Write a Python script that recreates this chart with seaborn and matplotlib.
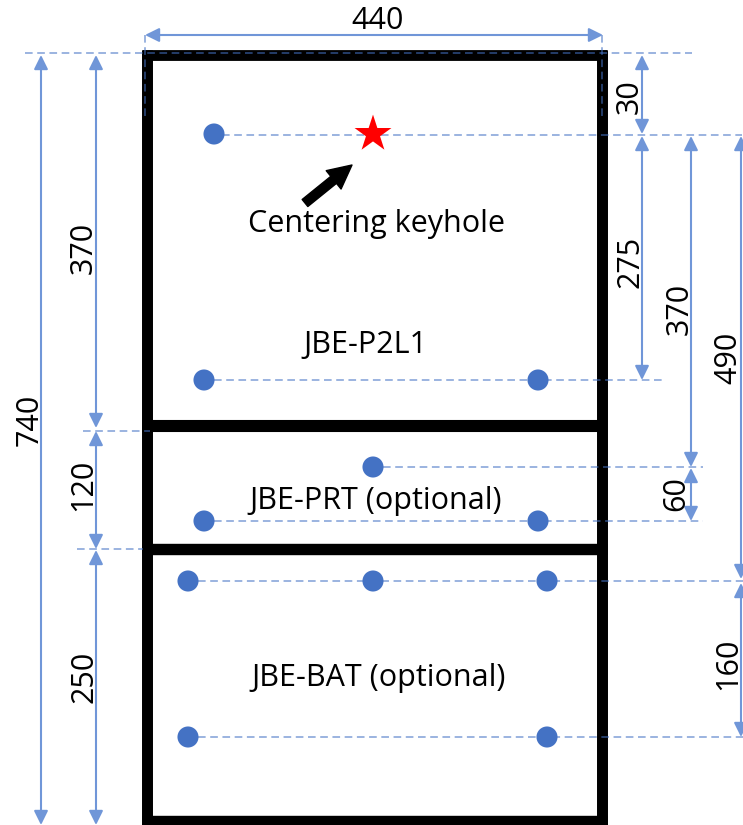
import matplotlib
matplotlib.use("Agg")
import matplotlib.pyplot as plt
import pandas as pd
import seaborn as sns

# All positions in reference pixel space
hole_x = [214, 204, 538, 373, 204, 538, 188, 373, 547, 188, 547]
hole_y = [134, 380, 380, 467, 521, 521, 581, 581, 581, 737, 737]
star_x = [373]
star_y = [134]

wall_h = [(142, 607, 55, 7.8), (142, 607, 426, 8.7), (142, 607, 548.5, 8.2), (142, 607, 820.5, 8.2)]
wall_v = [(147, 50, 826), (601.5, 50, 826)]

dashes_h = [(25, 692, 53), (222, 742, 135), (214, 665, 380), (83, 150, 431), (77, 143, 549),
            (383, 703, 467), (214, 703, 521), (198, 743, 581), (198, 743, 737)]
dashes_v = [(145, 35, 118), (602, 35, 118)]

dims_v = [(41, 55, 825), (96, 55, 428), (96, 431, 549), (96, 550, 825), (642, 55, 134),
          (642, 136, 380), (691, 136, 467), (691, 468, 521), (741, 136, 579), (741, 583, 737)]
dims_h = [(145, 603, 35)]

num_labels = ["440", "30", "275", "370", "490", "60", "160", "740", "370", "120", "250"]
num_x = [378, 630, 630, 679.5, 728, 676, 728, 29.5, 83.5, 83.5, 84]
num_y = [21, 97, 262, 309, 358, 494, 664, 420, 248, 485, 677]
num_rot = [0, 90, 90, 90, 90, 90, 90, 90, 90, 90, 90]

box_labels = ["Centering keyhole", "JBE-P2L1", "JBE-PRT (optional)", "JBE-BAT (optional)"]
box_x = [376, 365, 376, 379]
box_y = [224, 345, 501, 678]

BLUE = "#4472C4"
LINE = "#7096D8"

sns.set_theme(style="white")
plt.rcParams["font.family"] = ["Open Sans", "DejaVu Sans"]

fig = plt.figure(figsize=(7.43, 8.25), dpi=100)
ax = fig.add_axes([0, 0, 1, 1])
ax.set_xlim(0, 743)
ax.set_ylim(825, 0)
ax.axis("off")

for x0, x1, y, w in wall_h:
    ax.plot([x0, x1], [y, y], color="black", lw=w, solid_capstyle="butt", zorder=1)
for x, y0, y1 in wall_v:
    ax.plot([x, x], [y0, y1], color="black", lw=7.9, solid_capstyle="butt", zorder=1)

for x0, x1, y in dashes_h:
    ax.plot([x0, x1], [y, y], color=BLUE, lw=1.1, alpha=0.68, ls=(0, (5, 3)), zorder=2)
for x, y0, y1 in dashes_v:
    ax.plot([x, x], [y0, y1], color=BLUE, lw=1.1, alpha=0.68, ls=(0, (5, 3)), zorder=2)

arrow = dict(arrowstyle="<|-|>,head_length=0.85,head_width=0.42", color=LINE, lw=1.5,
             shrinkA=0, shrinkB=0, mutation_scale=10)
for x, y0, y1 in dims_v:
    ax.annotate("", xy=(x, y0), xytext=(x, y1), arrowprops=arrow, zorder=3, annotation_clip=False)
for x0, x1, y in dims_h:
    ax.annotate("", xy=(x0, y), xytext=(x1, y), arrowprops=arrow, zorder=3, annotation_clip=False)

holes = pd.DataFrame({"x": hole_x, "y": hole_y})
sns.scatterplot(data=holes, x="x", y="y", ax=ax, s=230, color=BLUE, edgecolor="none", zorder=4, legend=False)
star = pd.DataFrame({"x": star_x, "y": star_y})
sns.scatterplot(data=star, x="x", y="y", ax=ax, marker="*", s=780, color="#FF0000", edgecolor="none", zorder=4, legend=False)
ax.set_xlim(0, 743)
ax.set_ylim(825, 0)
ax.axis("off")

ax.annotate("", xy=(352, 165), xytext=(305, 203), zorder=5,
            arrowprops=dict(width=6.5, headwidth=17, headlength=17, color="black", shrink=0))

for t, x, y, r in zip(num_labels, num_x, num_y, num_rot):
    ax.text(x, y, t, rotation=r, fontsize=22, color="black", ha="center", va="center", zorder=6)
for t, x, y in zip(box_labels, box_x, box_y):
    ax.text(x, y, t, fontsize=22, color="black", ha="center", va="center", zorder=6)

fig.savefig("out.png", dpi=100)
